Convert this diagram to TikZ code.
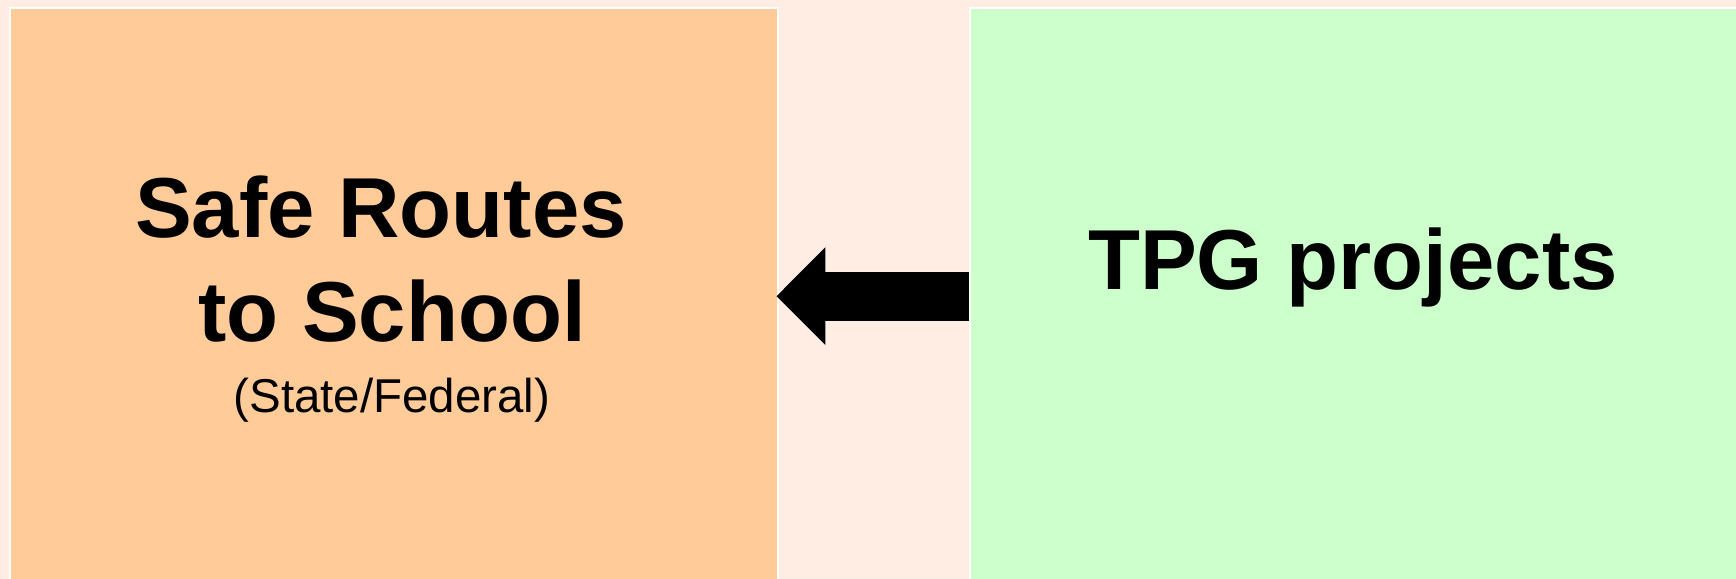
\documentclass[tikz,border=0pt]{standalone}
\usepackage{fontspec}
\setmainfont{Liberation Sans}
\usetikzlibrary{arrows.meta,positioning}
\definecolor{bgpeach}{RGB}{255,237,228}
\definecolor{srtsorange}{RGB}{255,204,153}
\definecolor{tpggreen}{RGB}{204,255,204}

\begin{document}
\begin{tikzpicture}[x=0.01cm,y=-0.01cm,
                    box/.style={rectangle,draw=white,line width=0.02cm,inner sep=0pt,anchor=north west},
                    big text/.style={font=\fontsize{24.2pt}{29pt}\selectfont\bfseries,inner sep=0pt,anchor=base},
                    small text/.style={font=\fontsize{13.5pt}{16pt}\selectfont,inner sep=0pt,anchor=base}]

  \fill[bgpeach] (0,0) rectangle (1736,579);
  \useasboundingbox (0,0) rectangle (1736,579);
  \clip (0,0) rectangle (1736,579);

  \node[box,fill=srtsorange,minimum width=7.68cm,minimum height=5.76cm] (srts) at (9,7) {};
  \node[box,fill=tpggreen,minimum width=7.9cm,minimum height=5.76cm] (tpg) at (969,7) {};

  \node[big text] (safe) at (381,238) {Safe Routes};
  \node[big text] (school) at (392,341) {to School};
  \node[small text] (state) at (392,412) {(State/Federal)};
  \node[big text] (projects) at (1353,290) {TPG projects};

  \draw[line width=0.49cm,-{Triangle[length=0.49cm,width=0.95cm]}] (tpg.west) -- ([xshift=-0.03cm]srts.east);
\end{tikzpicture}
\end{document}
